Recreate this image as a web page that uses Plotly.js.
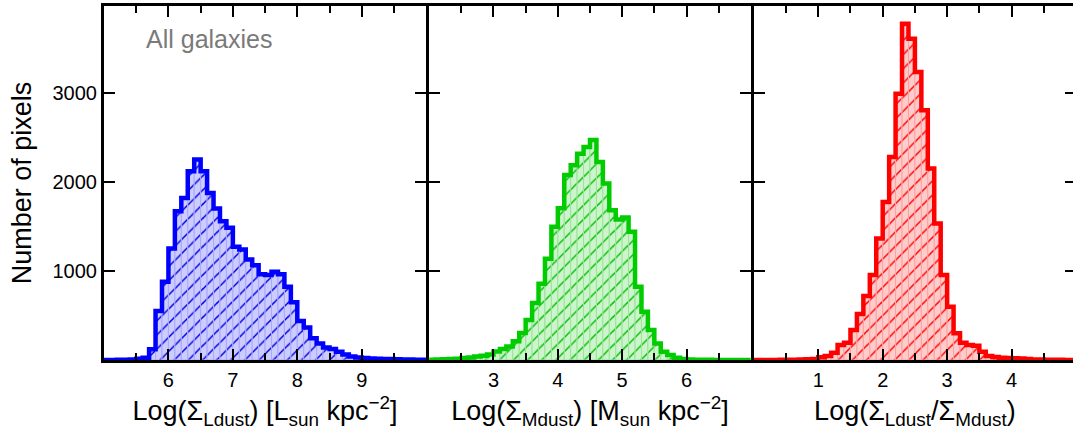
<!DOCTYPE html>
<html>
<head>
<meta charset="utf-8">
<script src="https://cdn.plot.ly/plotly-3.0.1.min.js"></script>
<style>
html, body { margin:0; padding:0; width:1073px; height:434px; overflow:hidden; background:#fff; }
#chart { width:1080px; height:434px; }
</style>
</head>
<body>
<div id="chart"></div>
<script>
// Bin left edges (bin width 0.1) and counts
const LDUST_BINS = [5.0,5.1,5.2,5.3,5.4,5.5,5.6,5.7,5.8,5.9,6.0,6.1,6.2,6.3,6.4,6.5,6.6,6.7,6.8,6.9,7.0,7.1,7.2,7.3,7.4,7.5,7.6,7.7,7.8,7.9,8.0,8.1,8.2,8.3,8.4,8.5,8.6,8.7,8.8,8.9,9.0,9.1,9.2,9.3,9.4,9.5,9.6,9.7,9.8,9.9];
const LDUST_COUNTS = [0,0,2,3,5,15,25,120,551,880,1255,1674,1824,2124,2255,2124,1880,1704,1562,1487,1273,1243,1131,1067,966,955,993,965,824,650,440,367,244,185,140,125,94,62,40,28,22,18,15,12,10,8,6,5,3,2];

const MDUST_BINS = [2.0,2.1,2.2,2.3,2.4,2.5,2.6,2.7,2.8,2.9,3.0,3.1,3.2,3.3,3.4,3.5,3.6,3.7,3.8,3.9,4.0,4.1,4.2,4.3,4.4,4.5,4.6,4.7,4.8,4.9,5.0,5.1,5.2,5.3,5.4,5.5,5.6,5.7,5.8,5.9,6.0,6.1,6.2,6.3,6.4,6.5,6.6,6.7,6.8,6.9];
const MDUST_COUNTS = [3,5,8,10,15,22,28,38,48,62,97,124,152,210,305,449,640,858,1138,1498,1708,2082,2191,2322,2397,2475,2228,1985,1685,1581,1603,1442,824,543,337,187,94,56,25,12,6,4,3,2,1,1,0,0,0,0];

const RATIO_BINS = [0.0,0.1,0.2,0.3,0.4,0.5,0.6,0.7,0.8,0.9,1.0,1.1,1.2,1.3,1.4,1.5,1.6,1.7,1.8,1.9,2.0,2.1,2.2,2.3,2.4,2.5,2.6,2.7,2.8,2.9,3.0,3.1,3.2,3.3,3.4,3.5,3.6,3.7,3.8,3.9,4.0,4.1,4.2,4.3,4.4,4.5,4.6,4.7,4.8,4.9];
const RATIO_COUNTS = [0,0,1,1,2,3,4,5,8,12,30,45,82,169,195,337,517,719,955,1367,1779,2285,2996,3783,3614,3240,2809,2154,1536,955,599,300,195,169,160,94,45,35,26,22,19,17,10,7,6,4,3,2,1,1];

const BIN_WIDTH = 0.1;
const X_TICKS = [[6,7,8,9],[3,4,5,6],[1,2,3,4]];
const X_MINOR = [[5.5,6.5,7.5,8.5,9.5],[2.5,3.5,4.5,5.5,6.5],[0.5,1.5,2.5,3.5,4.5]];
const X_RANGES = [[5,10],[2,7],[0,5]];
const Y_TICKS = [1000,2000,3000];
const Y_MAX = 3983;
const X_TITLES = [
  'Log(Σ<sub>Ldust</sub>) [L<sub>sun</sub> kpc<sup>−2</sup>]',
  'Log(Σ<sub>Mdust</sub>) [M<sub>sun</sub> kpc<sup>−2</sup>]',
  'Log(Σ<sub>Ldust</sub>/Σ<sub>Mdust</sub>)'
];

const FONT = 'Liberation Sans, Arial, Helvetica, sans-serif';
const W = 1080, H = 434, ML = 103.5, MR = 3.5, MT = 5.5, MB = 74;
const PW = W - ML - MR;
const px = p => (p - ML) / PW;
const DOMAINS = [[0, px(426)], [px(429), px(751)], [px(754), 1]];

const series = [
  {bins: LDUST_BINS, counts: LDUST_COUNTS, line: '#0000ff', fill: '#ccccff', hatch: '#0000e0', edge: '#a8a8ff'},
  {bins: MDUST_BINS, counts: MDUST_COUNTS, line: '#00cc00', fill: '#ccf5cc', hatch: '#00c000', edge: '#9de29d'},
  {bins: RATIO_BINS, counts: RATIO_COUNTS, line: '#ff0000', fill: '#ffcccc', hatch: '#ff0000', edge: '#ffa0a0'}
];

const traces = [];
series.forEach((s, i) => {
  const xa = i === 0 ? 'x' : 'x' + (i + 1);
  const ya = i === 0 ? 'y' : 'y' + (i + 1);
  traces.push({
    type: 'bar', xaxis: xa, yaxis: ya,
    x: s.bins.map(b => b + BIN_WIDTH / 2), y: s.counts, width: BIN_WIDTH,
    marker: {color: s.fill, line: {color: s.edge, width: 1},
      pattern: {shape: '/', fgcolor: s.hatch, bgcolor: s.fill, size: 10, solidity: 0.15, fillmode: 'replace'}},
    hoverinfo: 'skip'
  });
  const ox = s.bins.concat([s.bins[s.bins.length - 1] + BIN_WIDTH]);
  const oy = s.counts.concat([s.counts[s.counts.length - 1]]);
  traces.push({
    type: 'scatter', mode: 'lines', xaxis: xa, yaxis: ya,
    x: ox, y: oy, line: {shape: 'hv', color: s.line, width: 4.5},
    hoverinfo: 'skip', cliponaxis: true
  });
});

const layout = {
  width: W, height: H,
  margin: {l: ML, r: MR, t: MT, b: MB, pad: 0},
  paper_bgcolor: '#ffffff', plot_bgcolor: '#ffffff',
  showlegend: false, bargap: 0,
  font: {family: FONT, color: '#000', size: 20},
  annotations: [{
    xref: 'paper', yref: 'paper', x: px(208.5), y: 1 - (39 - MT) / (H - MT - MB),
    xanchor: 'center', yanchor: 'middle', showarrow: false,
    text: 'All galaxies', font: {family: FONT, size: 25, color: '#7a7a7a'}
  }]
};

for (let i = 0; i < 3; i++) {
  const xk = i === 0 ? 'xaxis' : 'xaxis' + (i + 1);
  const yk = i === 0 ? 'yaxis' : 'yaxis' + (i + 1);
  layout[xk] = {
    domain: DOMAINS[i], range: X_RANGES[i], anchor: i === 0 ? 'y' : 'y' + (i + 1),
    tickmode: 'array', tickvals: X_TICKS[i], ticks: 'inside', ticklen: 11, tickwidth: 2, tickcolor: '#000',
    minor: {tickmode: 'array', tickvals: X_MINOR[i], ticks: 'inside', ticklen: 7, tickwidth: 2, tickcolor: '#000', showgrid: false},
    showline: true, linewidth: 3, linecolor: '#000', mirror: 'allticks',
    showgrid: false, zeroline: false, fixedrange: true,
    tickfont: {family: FONT, size: 20, color: '#000'},
    title: {text: X_TITLES[i], font: {family: FONT, size: 27, color: '#000'}, standoff: 12}
  };
  const ycfg = {
    domain: [0, 1], range: [0, Y_MAX], anchor: i === 0 ? 'x' : 'x' + (i + 1),
    tickmode: 'array', tickvals: Y_TICKS, ticks: 'inside', ticklen: 11, tickwidth: 2, tickcolor: '#000',
    showline: true, linewidth: 3, linecolor: '#000', mirror: 'ticks',
    showgrid: false, zeroline: false, fixedrange: true,
    showticklabels: i === 0,
    tickfont: {family: FONT, size: 20, color: '#000'}
  };
  if (i === 0) ycfg.title = {text: 'Number of pixels', font: {family: FONT, size: 27, color: '#000'}, standoff: 14};
  layout[yk] = ycfg;
}

Plotly.newPlot('chart', traces, layout, {staticPlot: true, displayModeBar: false});
</script>
</body>
</html>
